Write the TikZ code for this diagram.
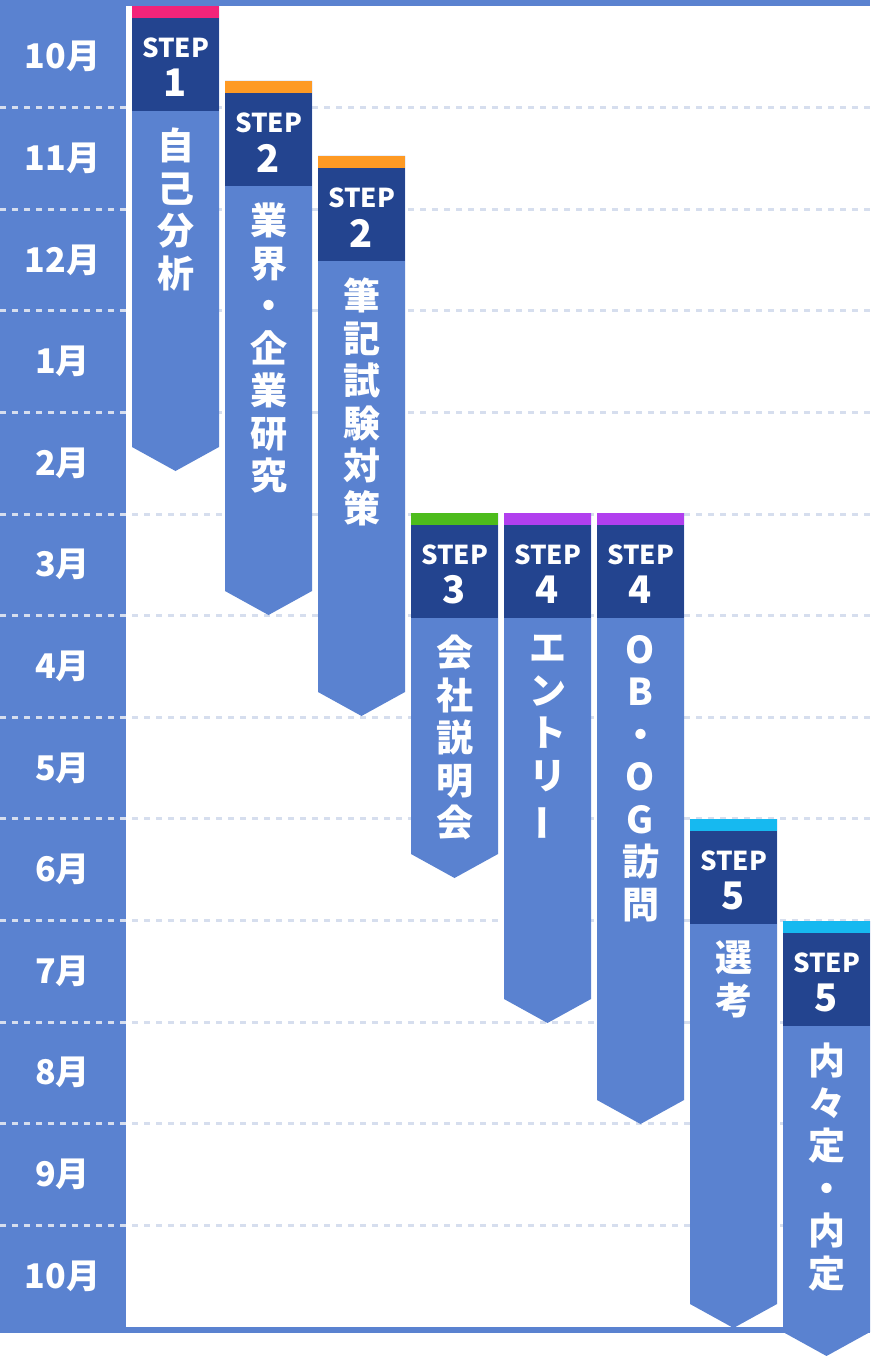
\documentclass[tikz,border=0pt]{standalone}
\usepackage{fontspec}
\usepackage{graphicx}
\setmainfont{Noto Sans CJK JP}
\definecolor{mainblue}{HTML}{5A82D0}
\definecolor{darkblue}{HTML}{23448F}
\definecolor{gridline}{HTML}{D6DEEE}
\definecolor{cpink}{HTML}{F2247A}
\definecolor{corange}{HTML}{FE9A24}
\definecolor{cgreen}{HTML}{4DBC1C}
\definecolor{cpurple}{HTML}{B13FEE}
\definecolor{ccyan}{HTML}{16B9F0}
\tikzset{
  monthlbl/.style={text=white,font=\bfseries\fontsize{34}{34}\selectfont,anchor=center,inner sep=0pt},
  steplbl/.style={text=white,font=\bfseries\fontsize{26}{26}\selectfont,anchor=center,inner sep=0pt},
  numlbl/.style={text=white,font=\bfseries\fontsize{38}{38}\selectfont,anchor=center,inner sep=0pt},
  bodylbl/.style={text=white,font=\bfseries\fontsize{37}{42.5}\selectfont,anchor=north,align=center,inner sep=0pt},
  gridrule/.style={gridline,line width=3pt,dash pattern=on 6pt off 6pt},
}
\newcommand\stepcol[7]{%
  % #1 x, #2 top, #3 tip, #4 colour, #5 number, #6 text, #7 name
  \fill[mainblue] (#1,#2) -- ++(87,0) -- (#1+87,#3-24) -- (#1+43.5,#3) -- (#1,#3-24) -- cycle;
  \fill[darkblue] (#1,#2+12) rectangle (#1+87,#2+105);
  \fill[#4] (#1,#2) rectangle (#1+87,#2+12);
  \node[steplbl] (#7s) at (#1+43.5,#2+42) {STEP};
  \node[numlbl] (#7n) at (#1+43.5,#2+77) {#5};
  \node[bodylbl] (#7t) at (#1+43.5,#2+122) {#6};
}
\begin{document}
\begin{tikzpicture}[x=1pt,y=-1pt]
\useasboundingbox (0,0) rectangle (870,1356);
% frame
\fill[mainblue] (0,0) rectangle (870,6);
\fill[mainblue] (0,0) rectangle (126,1333);
\fill[mainblue] (0,1327) rectangle (870,1333);
% grid lines
\foreach \k in {1,...,12}{
  \draw[gridrule] (0,6+101.6*\k) -- (870,6+101.6*\k);
}
% months
\foreach \m [count=\i from 0] in {10月,11月,12月,1月,2月,3月,4月,5月,6月,7月,8月,9月,10月}{
  \node[monthlbl] (month\i) at (62.5,6+101.6*\i+50.8) {\m};
}
% steps
\stepcol{132}{6}{471}{cpink}{1}{自\\己\\分\\析}{a}
\stepcol{225}{81}{615}{corange}{2}{業\\界\\・\\企\\業\\研\\究}{b}
\stepcol{318}{156}{716}{corange}{2}{筆\\記\\試\\験\\対\\策}{c}
\stepcol{411}{513}{878}{cgreen}{3}{会\\社\\説\\明\\会}{d}
\stepcol{504}{513}{1023}{cpurple}{4}{エ\\ン\\ト\\リ\\\rotatebox[origin=c]{90}{ー}}{e}
\stepcol{597}{513}{1124}{cpurple}{4}{O\\B\\・\\O\\G\\訪\\問}{f}
\stepcol{690}{819}{1328}{ccyan}{5}{選\\考}{g}
\stepcol{783}{921}{1356}{ccyan}{5}{内\\々\\定\\・\\内\\定}{h}
\end{tikzpicture}
\end{document}
